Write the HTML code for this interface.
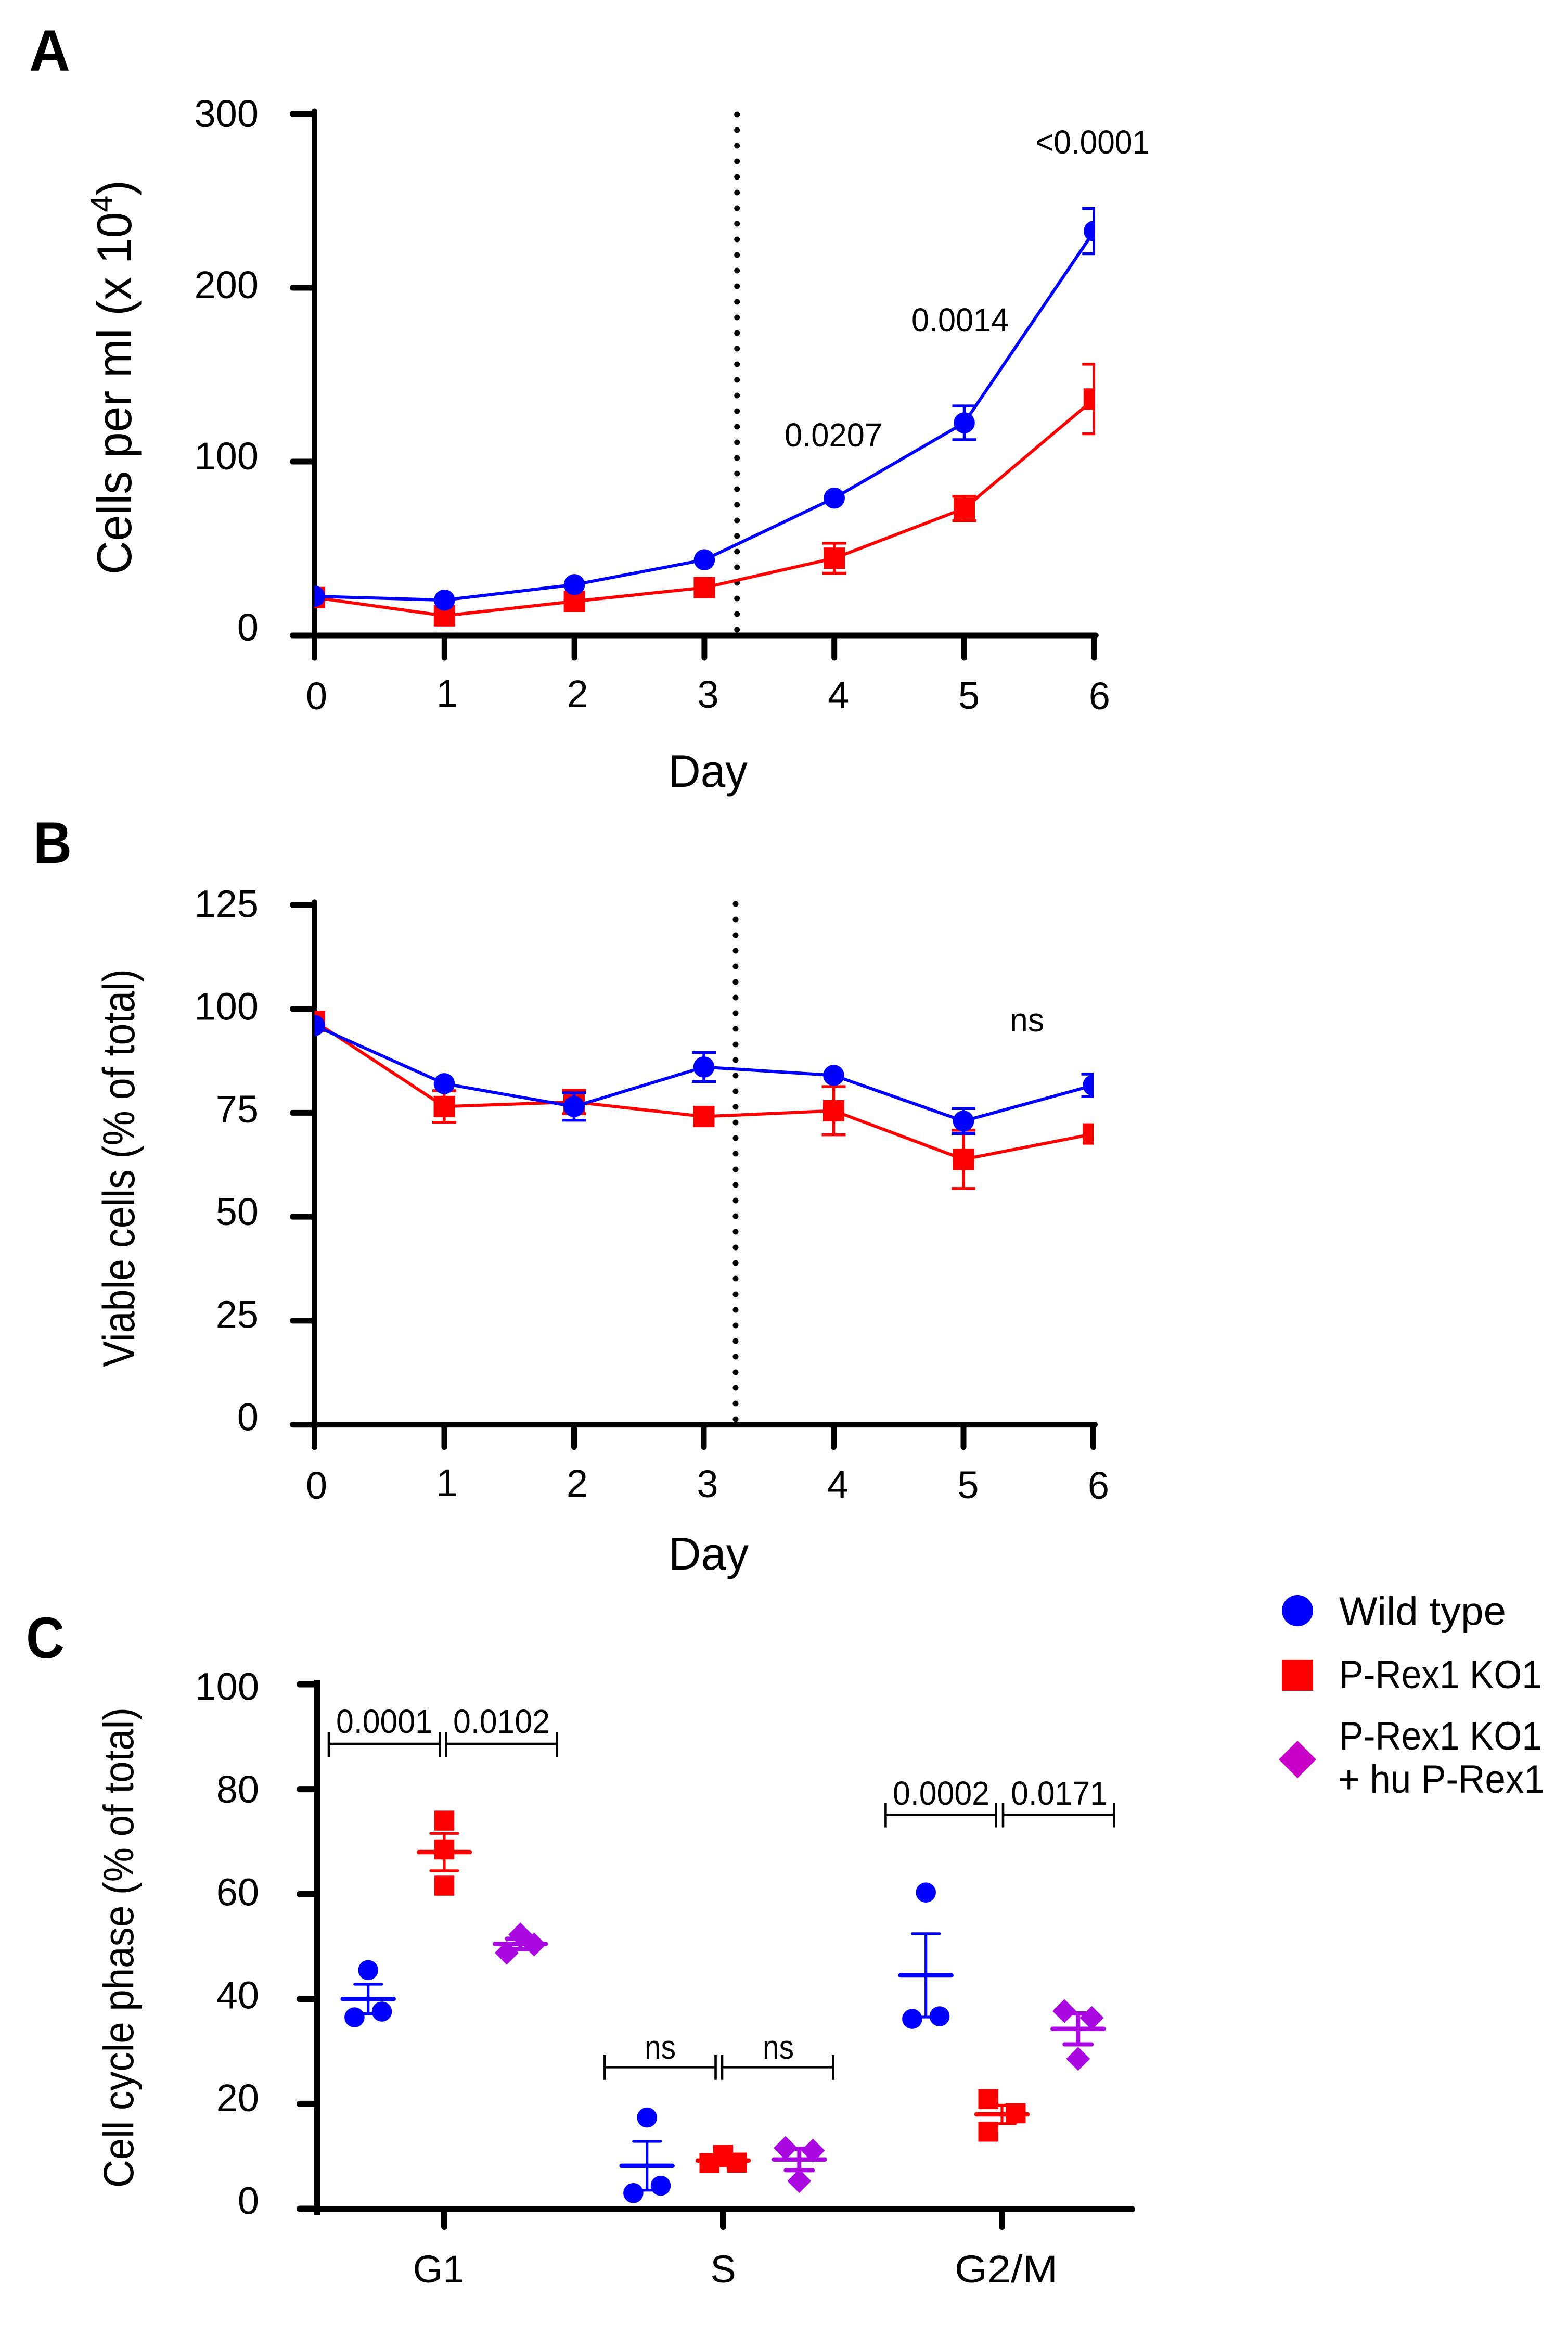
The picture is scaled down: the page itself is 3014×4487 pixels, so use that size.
<!DOCTYPE html>
<html lang="en">
<head>
<meta charset="utf-8">
<title>Cell growth, viability and cell cycle phase</title>
<style>
html,body{margin:0;padding:0;background:#fff;}
svg{display:block;}
text{font-family:"Liberation Sans",sans-serif;fill:#000;}
.pv{font-size:64px;}
.lg{font-size:76px;}
.ttl{font-size:88px;}
.pl{font-size:112px;font-weight:bold;}
</style>
</head>
<body>
<svg id="fig" xmlns="http://www.w3.org/2000/svg" width="3014" height="4487" viewBox="0 0 3014 4487">
<rect width="3014" height="4487" fill="#fff"/>
<defs>
<clipPath id="clipA"><rect x="604.5" y="150" width="1500.5" height="1200"/></clipPath>
<clipPath id="clipB"><rect x="604.5" y="1700" width="1497.5" height="1100"/></clipPath>
</defs>

<text class="pl" x="56" y="136" textLength="79" lengthAdjust="spacingAndGlyphs">A</text>
<text class="pl" x="64" y="1658" textLength="74" lengthAdjust="spacingAndGlyphs">B</text>
<text class="pl" x="50" y="3186" textLength="74" lengthAdjust="spacingAndGlyphs">C</text>

<text transform="translate(252,1104) rotate(-90)" font-size="94" textLength="758" lengthAdjust="spacingAndGlyphs">Cells per ml (x 10<tspan font-size="60" dy="-36">4</tspan><tspan dy="36">)</tspan></text>
<text transform="translate(258,2627) rotate(-90)" font-size="86" textLength="765" lengthAdjust="spacingAndGlyphs">Viable cells (% of total)</text>
<text transform="translate(256,4204) rotate(-90)" font-size="82" textLength="923" lengthAdjust="spacingAndGlyphs">Cell cycle phase (% of total)</text>

<text class="ttl" x="1285" y="1512" textLength="152" lengthAdjust="spacingAndGlyphs">Day</text>
<text class="ttl" x="1285" y="3016" textLength="154" lengthAdjust="spacingAndGlyphs">Day</text>

<text class="pv" x="1508" y="858" textLength="188" lengthAdjust="spacingAndGlyphs">0.0207</text>
<text class="pv" x="1752" y="637" textLength="187" lengthAdjust="spacingAndGlyphs">0.0014</text>
<text class="pv" x="1990" y="295" textLength="220" lengthAdjust="spacingAndGlyphs">&lt;0.0001</text>
<text class="pv" x="1941" y="1982" textLength="66" lengthAdjust="spacingAndGlyphs">ns</text>

<g id="panelA"></g>
<g id="panelB"></g>
<g id="panelC"></g>

<g fill="none" stroke="#000" stroke-width="4.6">
<path d="M632 3328V3376M632 3351H845.4M845.4 3328V3376"/>
<path d="M857.3 3328V3376M857.3 3351H1070.5M1070.5 3328V3376"/>
</g>
<g fill="none" stroke="#000" stroke-width="4.6">
<path d="M1162.4 3949V3996.7M1162.4 3972.3H1375.5M1375.5 3949V3996.7"/>
<path d="M1388 3949V3996.7M1388 3972.3H1601.3M1601.3 3949V3996.7"/>
</g>
<g fill="none" stroke="#000" stroke-width="4.6">
<path d="M1702.4 3464V3511.5M1702.4 3487.6H1914.4M1914.4 3464V3511.5"/>
<path d="M1928 3464V3511.5M1928 3487.6H2141.4M2141.4 3464V3511.5"/>
</g>
<text class="pv" x="646" y="3330" textLength="186" lengthAdjust="spacingAndGlyphs">0.0001</text>
<text class="pv" x="871" y="3330" textLength="186" lengthAdjust="spacingAndGlyphs">0.0102</text>
<text class="pv" x="1239" y="3956" textLength="60" lengthAdjust="spacingAndGlyphs">ns</text>
<text class="pv" x="1466" y="3956" textLength="60" lengthAdjust="spacingAndGlyphs">ns</text>
<text class="pv" x="1716" y="3468" textLength="186" lengthAdjust="spacingAndGlyphs">0.0002</text>
<text class="pv" x="1943" y="3468" textLength="186" lengthAdjust="spacingAndGlyphs">0.0171</text>

<g>
<g>
<circle cx="2494" cy="3095" r="30" fill="#0000ff"/>
<text class="lg" x="2574" y="3122" textLength="321" lengthAdjust="spacingAndGlyphs">Wild type</text>
</g>
<g>
<rect x="2464" y="3189" width="60" height="60" fill="#ff0000"/>
<text class="lg" x="2574" y="3244" textLength="390" lengthAdjust="spacingAndGlyphs">P-Rex1 KO1</text>
</g>
<g>
<polygon points="2494,3345 2530,3381 2494,3417 2458,3381" fill="#c800c8"/>
<text class="lg" x="2574" y="3362" textLength="390" lengthAdjust="spacingAndGlyphs">P-Rex1 KO1</text>
<text class="lg" x="2572" y="3445" textLength="397" lengthAdjust="spacingAndGlyphs">+ hu P-Rex1</text>
</g>
</g>
</svg>

<script>
// ---- Panel A data ----
const days = [0, 1, 2, 3, 4, 5, 6];
const growthTicks = [0, 100, 200, 300];
const growthWT = [22.5, 20.3, 29.2, 43.5, 79, 122.3, 232.6];
const growthWTErr = [0, 0, 0, 0, 0, 9.7, 13];
const growthKO = [21.8, 11.3, 19.6, 27.5, 44.4, 73, 136];
const growthKOErr = [0, 0, 0, 0, 8.6, 7, 20];

// ---- Panel B data ----
const viabilityTicks = [0, 25, 50, 75, 100, 125];
const viabilityWT = [96, 82, 76.5, 86, 84, 73, 81.6];
const viabilityWTErr = [0, 0, 3.3, 3.5, 0, 3, 2.7];
const viabilityKO = [97, 76.5, 77.6, 74.1, 75.5, 63.8, 69.9];
const viabilityKOErr = [0, 3.8, 2.8, 0, 5.8, 7, 0];

// ---- Panel C data ----
const phases = ['G1', 'S', 'G2/M'];
const phaseTicks = [0, 20, 40, 60, 80, 100];
const wtValues = [[45.5, 37.6, 36.5], [17.4, 4.4, 3], [60.3, 36.7, 36.2]];
const wtSlots = [[0, 1, -1], [0, 1, -1], [0, 1, -1]];
const wtMeans = [40, 8.2, 44.5];
const wtSems = [2.8, 4.65, 7.95];
const koValues = [[74, 68.5, 61.6], [10.3, 8.8, 8.7], [20.9, 18.2, 14.7]];
const koSlots = [[0, 0, 0], [0, 1, -1], [-1, 1, -1]];
const koMeans = [68, 9.2, 18];
const koSems = [3.55, 1, 1.75];
const rescueValues = [[52.3, 50.4, 48.8], [11.6, 11.1, 5.3], [37.7, 36.4, 28.6]];
const rescueSlots = [[0, 1, -1], [-1, 1, 0], [-1, 1, 0]];
const rescueMeans = [50.5, 9.4, 34.3];
const rescueSems = [1, 2.05, 2.95];

const NS = 'http://www.w3.org/2000/svg';
const BLUE = '#0000ff', RED = '#ff0000', PURPLE = '#aa08e0';

function make(tag, attrs, parent, name) {
  const el = document.createElementNS(NS, tag);
  for (const k in attrs) el.setAttribute(k, attrs[k]);
  
  
  parent.appendChild(el);
  return el;
}

function marker(shape, cx, cy, size, color, parent, name) {
  if (shape === 'circle') {
    return make('circle', {cx: cx, cy: cy, r: size, fill: color}, parent, name);
  }
  if (shape === 'square') {
    return make('rect', {x: cx - size, y: cy - size, width: 2 * size, height: 2 * size, fill: color}, parent, name);
  }
  const pts = [[cx, cy - size], [cx + size, cy], [cx, cy + size], [cx - size, cy]].map(p => p.join(',')).join(' ');
  return make('polygon', {points: pts, fill: color}, parent, name);
}

function drawTimeChart(cfg) {
  const g = cfg.root;
  const x = d => cfg.x0 + d * cfg.dx;
  const y = v => cfg.y0 - v * cfg.ky;
  const ax = {stroke: '#000', 'stroke-width': 11, 'stroke-linecap': 'round', fill: 'none'};

  make('line', Object.assign({}, ax, {x1: x(0), x2: x(0), y1: y(cfg.yTicks[cfg.yTicks.length - 1]) - 5, y2: cfg.y0 + 43}), g, 'y-axis-line');
  make('line', Object.assign({}, ax, {x1: x(0) - 42, x2: x(6) + 3, y1: cfg.y0, y2: cfg.y0}), g, 'x-axis-line');

  cfg.yTicks.forEach(v => {
    make('line', Object.assign({}, ax, {x1: x(0) - 42, x2: x(0), y1: y(v), y2: y(v)}), g, 'y-tick-' + v);
    const t = make('text', {x: 497, y: y(v) + cfg.lblBase + v * cfg.lblSlope, 'text-anchor': 'end', 'font-size': 74}, g, 'y-tick-label-' + v);
    t.textContent = v;
  });
  days.forEach(d => {
    make('line', Object.assign({}, ax, {x1: x(d), x2: x(d), y1: cfg.y0, y2: cfg.y0 + 43}), g, 'x-tick-' + d);
    const by = d === 0 ? cfg.xLblY + 5 : cfg.xLblY + (d - 1);
    const t = make('text', {x: x(d) + 4 + d * 1.0, y: by, 'text-anchor': 'middle', 'font-size': 74}, g, 'x-tick-label-' + d);
    t.textContent = d;
  });

  make('line', {x1: cfg.dotX, x2: cfg.dotX, y1: cfg.dotTop, y2: cfg.y0 - 4, stroke: '#000', 'stroke-width': 11, 'stroke-linecap': 'round', 'stroke-dasharray': '0 30'}, g, 'treatment-dotted-line');

  const plot = make('g', {'clip-path': 'url(#' + cfg.clip + ')'}, g, 'plot-area');
  cfg.series.forEach(s => {
    const sg = make('g', {}, plot, 'series-' + s.name);
    const pts = s.values.map((v, i) => x(days[i]) + ',' + y(v)).join(' ');
    make('polyline', {points: pts, fill: 'none', stroke: s.color, 'stroke-width': 6}, sg, 'line-' + s.name);
    s.values.forEach((v, i) => {
      const e = s.errs[i];
      if (e > 0) {
        const px = x(days[i]);
        const d = 'M' + px + ' ' + y(v + e) + 'V' + y(v - e) +
          'M' + (px - 23) + ' ' + y(v + e) + 'H' + (px + 23) +
          'M' + (px - 23) + ' ' + y(v - e) + 'H' + (px + 23);
        make('path', {d: d, fill: 'none', stroke: s.color, 'stroke-width': 5.4}, sg, 'error-bar-' + s.name + '-day-' + days[i]);
      }
      marker(s.shape, x(days[i]), y(v), s.size, s.color, sg, 'point-' + s.name + '-day-' + days[i]);
    });
  });
}

drawTimeChart({
  root: document.getElementById('panelA'), clip: 'clipA',
  x0: 604.5, dx: 249.8, y0: 1221, ky: 3.34,
  yTicks: growthTicks, lblBase: 10, lblSlope: 0.05, xLblY: 1358,
  dotX: 1416.7, dotTop: 220,
  series: [
    {name: 'ko', values: growthKO, errs: growthKOErr, color: RED, shape: 'square', size: 20.5},
    {name: 'wild-type', values: growthWT, errs: growthWTErr, color: BLUE, shape: 'circle', size: 20.3}
  ]
});

drawTimeChart({
  root: document.getElementById('panelB'), clip: 'clipB',
  x0: 604.5, dx: 249.5, y0: 2737.6, ky: 7.99,
  yTicks: viabilityTicks, lblBase: 11, lblSlope: 0.1, xLblY: 2875,
  dotX: 1414, dotTop: 1737,
  series: [
    {name: 'ko', values: viabilityKO, errs: viabilityKOErr, color: RED, shape: 'square', size: 20.5},
    {name: 'wild-type', values: viabilityWT, errs: viabilityWTErr, color: BLUE, shape: 'circle', size: 20.3}
  ]
});

(function drawPhaseChart() {
  const g = document.getElementById('panelC');
  const y = v => 4244.5 - v * 10.08;
  const groupX = i => 854 + i * 536;
  const ax = {stroke: '#000', 'stroke-width': 12, 'stroke-linecap': 'round', fill: 'none'};
  const axButt = {stroke: '#000', 'stroke-width': 12, fill: 'none'};

  make('line', Object.assign({}, axButt, {x1: 610, x2: 610, y1: 3228, y2: 4256}), g, 'y-axis-line');
  make('line', Object.assign({}, ax, {x1: 579, x2: 2176, y1: 4245, y2: 4245}), g, 'x-axis-line');

  phaseTicks.forEach(v => {
    make('line', Object.assign({}, ax, {x1: 576, x2: 610, y1: y(v), y2: y(v)}), g, 'y-tick-' + v);
    const t = make('text', {x: 498, y: y(v) + 10 + v * 0.2, 'text-anchor': 'end', 'font-size': 74}, g, 'y-tick-label-' + v);
    t.textContent = v;
  });
  phases.forEach((p, i) => {
    make('line', Object.assign({}, ax, {x1: groupX(i), x2: groupX(i), y1: 4245, y2: 4279}), g, 'x-tick-' + p);
    const offs = [-11, 0, 8];
    const t = make('text', {x: groupX(i) + offs[i], y: 4386, 'text-anchor': 'middle', 'font-size': 74}, g, 'x-tick-label-' + p);
    t.textContent = p;
    if (p === 'G2/M') {
      t.setAttribute('textLength', '198');
      t.setAttribute('lengthAdjust', 'spacingAndGlyphs');
    }
  });

  const groups = [
    {name: 'wild-type', shift: -146.3, values: wtValues, slots: wtSlots, means: wtMeans, sems: wtSems, color: BLUE, shape: 'circle', size: 19.3, errW: 5.2},
    {name: 'ko', shift: 0, values: koValues, slots: koSlots, means: koMeans, sems: koSems, color: RED, shape: 'square', size: 19.2, errW: 5.2},
    {name: 'rescue', shift: 146.3, values: rescueValues, slots: rescueSlots, means: rescueMeans, sems: rescueSems, color: PURPLE, shape: 'diamond', size: 23, errW: 8}
  ];
  groups.forEach(s => {
    phases.forEach((p, i) => {
      const cg = make('g', {}, g, 'group-' + s.name + '-' + p);
      const cx = groupX(i) + s.shift;
      s.values[i].forEach((v, j) => {
        marker(s.shape, cx + s.slots[i][j] * 26.3, y(v), s.size, s.color, cg, 'point-' + s.name + '-' + p + '-' + (j + 1));
      });
      const m = s.means[i], e = s.sems[i];
      const bar = 'M' + cx + ' ' + y(m + e) + 'V' + y(m - e) +
        'M' + (cx - 26) + ' ' + y(m + e) + 'H' + (cx + 26) +
        'M' + (cx - 26) + ' ' + y(m - e) + 'H' + (cx + 26);
      make('path', {d: bar, fill: 'none', stroke: s.color, 'stroke-width': s.errW, 'stroke-linecap': 'round'}, cg, 'error-bar-' + s.name + '-' + p);
      make('line', {x1: cx - 49, x2: cx + 49, y1: y(m), y2: y(m), stroke: s.color, 'stroke-width': 8.5, 'stroke-linecap': 'round'}, cg, 'mean-line-' + s.name + '-' + p);
    });
  });
})();
</script>
</body>
</html>
